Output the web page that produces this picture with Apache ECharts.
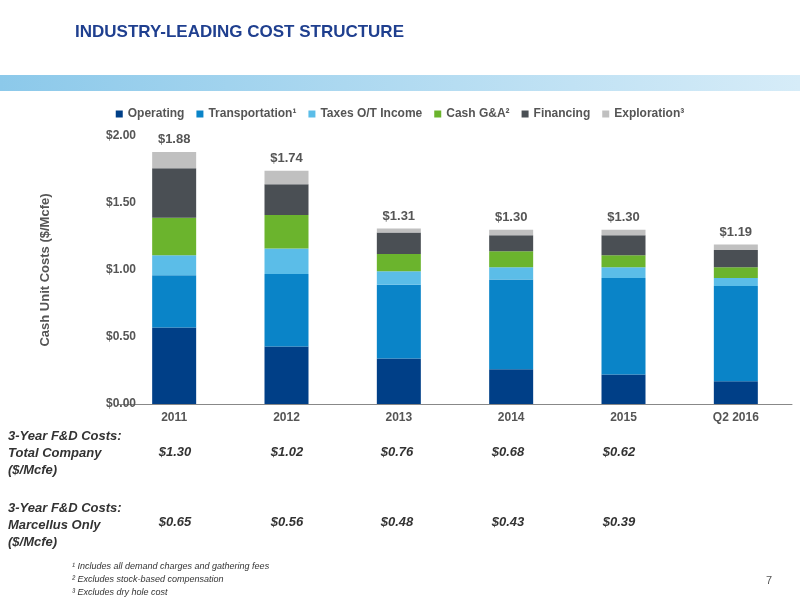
<!DOCTYPE html>
<html lang="en">
<head>
<meta charset="UTF-8">
<title>Cost structure</title>
<script src="https://cdn.jsdelivr.net/npm/echarts@6/dist/echarts.min.js"></script>
<style>body{margin:0}#main{width:800px;height:600px}</style>
</head>
<body>
<div id="main"></div>
<script>
var years = ['2011', '2012', '2013', '2014', '2015', 'Q2 2016'];
var operating = [0.57, 0.43, 0.34, 0.26, 0.22, 0.17];
var transportation = [0.39, 0.54, 0.55, 0.67, 0.72, 0.71];
var taxes = [0.15, 0.19, 0.10, 0.09, 0.08, 0.06];
var cashGA = [0.28, 0.25, 0.13, 0.12, 0.09, 0.08];
var financing = [0.37, 0.23, 0.16, 0.12, 0.15, 0.13];
var exploration = [0.12, 0.10, 0.03, 0.04, 0.04, 0.04];
var totals = ['$1.88', '$1.74', '$1.31', '$1.30', '$1.30', '$1.19'];
var fdTotal = ['$1.30', '$1.02', '$0.76', '$0.68', '$0.62'];
var fdMarcellus = ['$0.65', '$0.56', '$0.48', '$0.43', '$0.39'];

var names = ['Operating', 'Transportation\u00b9', 'Taxes O/T Income', 'Cash G&A\u00b2', 'Financing', 'Exploration\u00b3'];
var colors = ['#003f87', '#0a84c8', '#5bbde8', '#6bb42d', '#4a4f54', '#c0c0c0'];
var datas = [operating, transportation, taxes, cashGA, financing, exploration];

var series = [];
for (var i = 0; i < datas.length; i++) {
    var s = {
        name: names[i], type: 'bar', stack: 'cost', data: datas[i],
        barWidth: 44, itemStyle: {color: colors[i]}
    };
    if (i == datas.length - 1) {
        s.label = {
            show: true, position: 'top', distance: 6,
            color: '#555', fontSize: 13, fontWeight: 'bold',
            formatter: function (p) { return totals[p.dataIndex]; }
        };
    }
    series.push(s);
}

// bottom table as text
var graphics = [
    {type: 'text', left: 75, top: 24, style: {text: 'INDUSTRY-LEADING COST STRUCTURE', fill: '#1f3f8f', font: 'bold 17px Arial'}},
    {type: 'rect', shape: {x: 0, y: 75, width: 800, height: 16}, style: {fill: new echarts.graphic.LinearGradient(0, 0, 1, 0, [{offset: 0, color: '#8cc9ea'}, {offset: 1, color: '#d6ecf8'}])}},
    {type: 'text', left: 8, top: 428, style: {text: '3-Year F&D Costs:\nTotal Company\n($/Mcfe)', fill: '#333', font: 'italic bold 13px Arial', lineHeight: 17}},
    {type: 'text', left: 8, top: 500, style: {text: '3-Year F&D Costs:\nMarcellus Only\n($/Mcfe)', fill: '#333', font: 'italic bold 13px Arial', lineHeight: 17}},
    {type: 'text', left: 72, top: 560, style: {text: '\u00b9 Includes all demand charges and gathering fees\n\u00b2 Excludes stock-based compensation\n\u00b3 Excludes dry hole cost', fill: '#333', font: 'italic 9px Arial', lineHeight: 13}},
    {type: 'text', left: 766, top: 575, style: {text: '7', fill: '#555', font: '11px Arial'}}
];
var centres = [175, 287, 397, 508, 619];
for (var j = 0; j < fdTotal.length; j++) {
    graphics.push({type: 'text', x: centres[j], y: 446, style: {text: fdTotal[j], fill: '#333', font: 'italic bold 13px Arial', align: 'center'}});
    graphics.push({type: 'text', x: centres[j], y: 516, style: {text: fdMarcellus[j], fill: '#333', font: 'italic bold 13px Arial', align: 'center'}});
}

var myCharts = echarts.init(document.getElementById('main'));
myCharts.setOption({
    animation: false,
    color: colors,
    legend: {
        top: 103, left: 'center', itemWidth: 7, itemHeight: 7, itemGap: 12,
        icon: 'rect',
        textStyle: {fontSize: 12, fontWeight: 'bold', color: '#555', fontFamily: 'Arial'}
    },
    grid: {left: 118, right: 8, top: 136, bottom: 196},
    xAxis: {
        type: 'category', data: years,
        axisTick: {show: false},
        axisLine: {lineStyle: {color: '#888'}},
        axisLabel: {fontSize: 12, fontWeight: 'bold', color: '#555'}
    },
    yAxis: {
        type: 'value', min: 0, max: 2, interval: 0.5,
        name: 'Cash Unit Costs ($/Mcfe)', nameLocation: 'middle', nameGap: 66,
        nameTextStyle: {fontSize: 13, fontWeight: 'bold', color: '#555'},
        splitLine: {show: false},
        axisLine: {show: false},
        axisLabel: {margin: -18, fontSize: 12, fontWeight: 'bold', color: '#555',
            formatter: function (v) { return '$' + v.toFixed(2); }}
    },
    series: series,
    graphic: graphics
});
</script>
</body>
</html>
